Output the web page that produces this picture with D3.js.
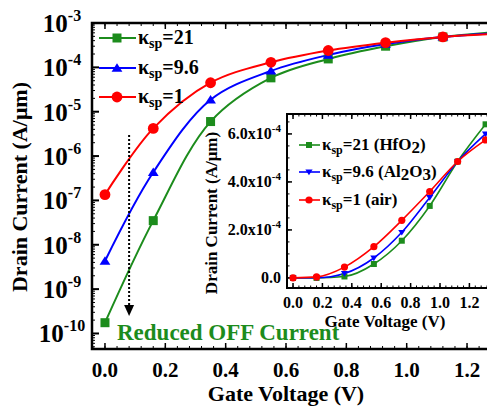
<!DOCTYPE html>
<html>
<head>
<meta charset="utf-8">
<script src="https://cdn.jsdelivr.net/npm/d3@7"></script>
<style>
  @font-face { font-family: "ChartSerif"; src: local("Liberation Serif Bold"), local("LiberationSerif-Bold"); font-weight: bold; }
  svg text { font-family: "Liberation Serif", "Times New Roman", "ChartSerif", Tinos !important; font-weight: bold; }
</style>
</head>
<body style="margin:0">
<div id="chart"></div>
<script>
width = 487
height = 406

// gate voltage of the simulated points
vg = [0, 0.16, 0.35, 0.55, 0.74, 0.93, 1.12, 1.31]
// drain current (A/um)
k21 = [1.75e-10, 3.5e-8, 6.0e-6, 5.8e-5, 1.55e-4, 3.0e-4, 4.85e-4, 6.4e-4]
k96 = [4.3e-9, 4.3e-7, 1.86e-5, 8.3e-5, 1.9e-4, 3.35e-4, 4.85e-4, 6.0e-4]
k1 = [1.35e-7, 4.2e-6, 4.5e-5, 1.3e-4, 2.4e-4, 3.6e-4, 4.85e-4, 5.75e-4]

seriesNames = ["21", "9.6", "1"]
insetNames = ["=21 (HfO", "=9.6 (Al", "=1 (air)"]
colors = ["#1c8c1c", "#0000ff", "#ff0000"]

xTicks = [0, 0.2, 0.4, 0.6, 0.8, 1.0, 1.2]
yDecades = [-10, -9, -8, -7, -6, -5, -4, -3]
insetYTicks = [0, 2e-4, 4e-4, 6e-4]

series = [k21, k96, k1]
serifFont = "Liberation Serif"

const svg = d3.select("#chart").append("svg")
    .attr("width", width)
    .attr("height", height)

// main plot
plotBox = ({ left: 92, top: 23, right: 497, bottom: 349 })
x = d3.scaleLinear([-0.043, (plotBox.right - 105) / 301.7], [plotBox.left, plotBox.right])
y = d3.scaleLog([Math.pow(10, -10.35), 1e-3], [plotBox.bottom, plotBox.top])

svg.append("clipPath").attr("id", "mainClip")
    .append("rect")
    .attr("x", plotBox.left).attr("y", plotBox.top)
    .attr("width", plotBox.right - plotBox.left).attr("height", plotBox.bottom - plotBox.top)

// frame
svg.append("rect")
    .attr("x", plotBox.left).attr("y", plotBox.top)
    .attr("width", plotBox.right - plotBox.left).attr("height", plotBox.bottom - plotBox.top)
    .attr("fill", "none").attr("stroke", "#000").attr("stroke-width", 2.5)

// x ticks (bottom + top), major and minor
minorX = d3.range(-0.04, 1.3, 0.04)
tickG = svg.append("g").attr("stroke", "#000")
tickG.selectAll(".mxb").data(minorX).join("line")
    .attr("x1", d => x(d)).attr("x2", d => x(d))
    .attr("y1", plotBox.bottom).attr("y2", plotBox.bottom - 3).attr("stroke-width", 1)
tickG.selectAll(".mxt").data(minorX).join("line")
    .attr("x1", d => x(d)).attr("x2", d => x(d))
    .attr("y1", plotBox.top).attr("y2", plotBox.top + 3).attr("stroke-width", 1)
tickG.selectAll(".Mxb").data(xTicks).join("line")
    .attr("x1", d => x(d)).attr("x2", d => x(d))
    .attr("y1", plotBox.bottom).attr("y2", plotBox.bottom - 6).attr("stroke-width", 1.5)
tickG.selectAll(".Mxt").data(xTicks).join("line")
    .attr("x1", d => x(d)).attr("x2", d => x(d))
    .attr("y1", plotBox.top).attr("y2", plotBox.top + 6).attr("stroke-width", 1.5)

// y ticks, log
minorY = []
yDecades.forEach(e => {
    for (let m = 2; m < 10; m++) {
        const v = m * Math.pow(10, e)
        if (v < 1e-3) minorY.push(v)
    }
})
minorY.push(5e-11, 6e-11, 7e-11, 8e-11, 9e-11)
tickG.selectAll(".myl").data(minorY).join("line")
    .attr("x1", plotBox.left).attr("x2", plotBox.left + 3)
    .attr("y1", d => y(d)).attr("y2", d => y(d)).attr("stroke-width", 1)
tickG.selectAll(".Myl").data(yDecades).join("line")
    .attr("x1", plotBox.left).attr("x2", plotBox.left + 7)
    .attr("y1", d => y(Math.pow(10, d))).attr("y2", d => y(Math.pow(10, d))).attr("stroke-width", 2)

// tick labels
svg.append("g").selectAll("text").data(xTicks).join("text")
    .attr("x", d => x(d)).attr("y", 377)
    .attr("text-anchor", "middle").attr("font-size", 21)
    .text(d => d.toFixed(1))

const yl = svg.append("g").selectAll("text").data(yDecades).join("text")
    .attr("x", 62).attr("y", d => y(Math.pow(10, d)) + 9)
    .attr("text-anchor", "middle").attr("font-size", 25)
yl.append("tspan").text("10")
yl.append("tspan").attr("dy", -11).attr("font-size", 16).text(d => d)

// axis titles
svg.append("text")
    .attr("x", 286).attr("y", 401)
    .attr("text-anchor", "middle").attr("font-size", 22)
    .text("Gate Voltage (V)")
svg.append("text")
    .attr("transform", "translate(27,187) rotate(-90)")
    .attr("text-anchor", "middle").attr("font-size", 22)
    .text("Drain Current (A/\u03bcm)")

// curves
const line = d3.line()
    .x((d, i) => x(vg[i]))
    .y(d => y(d))
    .curve(d3.curveCatmullRom)

const plot = svg.append("g").attr("clip-path", "url(#mainClip)")

series.forEach((s, k) => {
    plot.append("path")
        .datum(s)
        .attr("fill", "none")
        .attr("stroke", colors[k])
        .attr("stroke-width", 2)
        .attr("d", line)
})

function marker(g, k, cx, cy, size, down) {
    if (k === 0) {
        g.append("rect")
            .attr("x", cx - size / 2).attr("y", cy - size / 2)
            .attr("width", size).attr("height", size)
            .attr("fill", colors[k])
    } else if (k === 1) {
        const h = size * 0.9, s = down ? -1 : 1
        g.append("path")
            .attr("d", `M${cx},${cy - s * h * 0.6}L${cx + size * 0.6},${cy + s * h * 0.45}L${cx - size * 0.6},${cy + s * h * 0.45}Z`)
            .attr("fill", colors[k])
    } else {
        g.append("circle")
            .attr("cx", cx).attr("cy", cy).attr("r", size * 0.6)
            .attr("fill", colors[k])
    }
}

series.forEach((s, k) => {
    s.forEach((v, i) => marker(plot, k, x(vg[i]), y(v), 9, false))
})

// main legend
series.forEach((s, k) => {
    const ly = [38, 68, 97][k]
    svg.append("line")
        .attr("x1", 99).attr("x2", 136).attr("y1", ly).attr("y2", ly)
        .attr("stroke", colors[k]).attr("stroke-width", 2)
    marker(svg, k, 117, ly, 9, false)
    const t = svg.append("text")
        .attr("x", 138).attr("y", ly + 6).attr("font-size", 20)
    t.append("tspan").text("\u03ba")
    t.append("tspan").attr("dy", 4).attr("font-size", 14).text("sp")
    t.append("tspan").attr("dy", -4).text("=" + seriesNames[k])
})

// dotted arrow
svg.append("line")
    .attr("x1", x(0.08)).attr("x2", x(0.08))
    .attr("y1", 135).attr("y2", 306)
    .attr("stroke", "#000").attr("stroke-width", 2)
    .attr("stroke-dasharray", "2,2")
svg.append("path")
    .attr("d", `M${x(0.08) - 5},305L${x(0.08) + 5},305L${x(0.08)},316Z`)
    .attr("fill", "#000")

svg.append("text")
    .attr("x", 117).attr("y", 340)
    .attr("font-size", 23)
    .attr("fill", colors[0])
    .text("Reduced OFF Current")

// inset
insetBox = ({ left: 287, top: 114, right: 497, bottom: 288 })
xi = d3.scaleLinear([-0.041, (insetBox.right - 293) / 147], [insetBox.left, insetBox.right])
yi = d3.scaleLinear([-0.42e-4, 6.83e-4], [insetBox.bottom, insetBox.top])

svg.append("rect")
    .attr("x", insetBox.left).attr("y", insetBox.top)
    .attr("width", insetBox.right - insetBox.left).attr("height", insetBox.bottom - insetBox.top)
    .attr("fill", "#fff").attr("stroke", "#000").attr("stroke-width", 2)

svg.append("clipPath").attr("id", "insetClip")
    .append("rect")
    .attr("x", insetBox.left).attr("y", insetBox.top)
    .attr("width", insetBox.right - insetBox.left).attr("height", insetBox.bottom - insetBox.top)

const itk = svg.append("g").attr("stroke", "#000")
const minorXi = d3.range(-0.04, 1.4, 0.04)
itk.selectAll(".a").data(minorXi).join("line")
    .attr("x1", d => xi(d)).attr("x2", d => xi(d))
    .attr("y1", insetBox.bottom).attr("y2", insetBox.bottom - 2.5)
itk.selectAll(".b").data(minorXi).join("line")
    .attr("x1", d => xi(d)).attr("x2", d => xi(d))
    .attr("y1", insetBox.top).attr("y2", insetBox.top + 2.5)
itk.selectAll(".c").data(xTicks).join("line")
    .attr("x1", d => xi(d)).attr("x2", d => xi(d))
    .attr("y1", insetBox.bottom).attr("y2", insetBox.bottom - 5).attr("stroke-width", 1.5)
itk.selectAll(".d").data(xTicks).join("line")
    .attr("x1", d => xi(d)).attr("x2", d => xi(d))
    .attr("y1", insetBox.top).attr("y2", insetBox.top + 5).attr("stroke-width", 1.5)
const minorYi = d3.range(0, 6.9e-4, 0.5e-4)
itk.selectAll(".e").data(minorYi).join("line")
    .attr("x1", insetBox.left).attr("x2", insetBox.left + 2.5)
    .attr("y1", d => yi(d)).attr("y2", d => yi(d))
itk.selectAll(".f").data(insetYTicks).join("line")
    .attr("x1", insetBox.left).attr("x2", insetBox.left + 5)
    .attr("y1", d => yi(d)).attr("y2", d => yi(d)).attr("stroke-width", 1.5)

svg.append("g").selectAll("text").data(xTicks).join("text")
    .attr("x", d => xi(d)).attr("y", 308)
    .attr("text-anchor", "middle").attr("font-size", 16)
    .text(d => d.toFixed(1))

const yil = svg.append("g").selectAll("text").data(insetYTicks).join("text")
    .attr("x", 281).attr("y", d => yi(d) + 5)
    .attr("text-anchor", "end").attr("font-size", 16)
yil.append("tspan").text(d => d === 0 ? "0.0" : (d * 1e4).toFixed(1) + "x10")
yil.filter(d => d !== 0).append("tspan").attr("dy", -7).attr("font-size", 11).text("-4")

svg.append("text")
    .attr("x", 385).attr("y", 327)
    .attr("text-anchor", "middle").attr("font-size", 17)
    .text("Gate Voltage (V)")
svg.append("text")
    .attr("transform", "translate(217,213) rotate(-90)")
    .attr("text-anchor", "middle").attr("font-size", 17)
    .text("Drain Current (A/\u03bcm)")

const lineI = d3.line()
    .x((d, i) => xi(vg[i]))
    .y(d => yi(d))
    .curve(d3.curveMonotoneX)

const iplot = svg.append("g").attr("clip-path", "url(#insetClip)")
series.forEach((s, k) => {
    iplot.append("path")
        .datum(s)
        .attr("fill", "none")
        .attr("stroke", colors[k])
        .attr("stroke-width", 1.6)
        .attr("d", lineI)
})
series.forEach((s, k) => {
    s.forEach((v, i) => marker(iplot, k, xi(vg[i]), yi(v), 6, true))
})

// inset legend
series.forEach((s, k) => {
    const ly = [145, 172, 200][k]
    svg.append("line")
        .attr("x1", 299).attr("x2", 320).attr("y1", ly).attr("y2", ly)
        .attr("stroke", colors[k]).attr("stroke-width", 1.6)
    marker(svg, k, 309, ly, 6, true)
    const t = svg.append("text")
        .attr("x", 322).attr("y", ly + 5).attr("font-size", 17)
    t.append("tspan").text("\u03ba")
    t.append("tspan").attr("dy", 4).attr("font-size", 12).text("sp")
    t.append("tspan").attr("dy", -4).text(insetNames[k])
    if (k === 0) {
        t.append("tspan").attr("dy", 3).text("2")
        t.append("tspan").attr("dy", -3).text(")")
    } else if (k === 1) {
        t.append("tspan").attr("dy", 3).text("2")
        t.append("tspan").attr("dy", -3).text("O")
        t.append("tspan").attr("dy", 3).text("3")
        t.append("tspan").attr("dy", -3).text(")")
    }
})

// serif bold type on every label
svg.selectAll("text")
    .attr("font-family", serifFont)
    .attr("font-weight", "bold")
</script>
</body>
</html>
